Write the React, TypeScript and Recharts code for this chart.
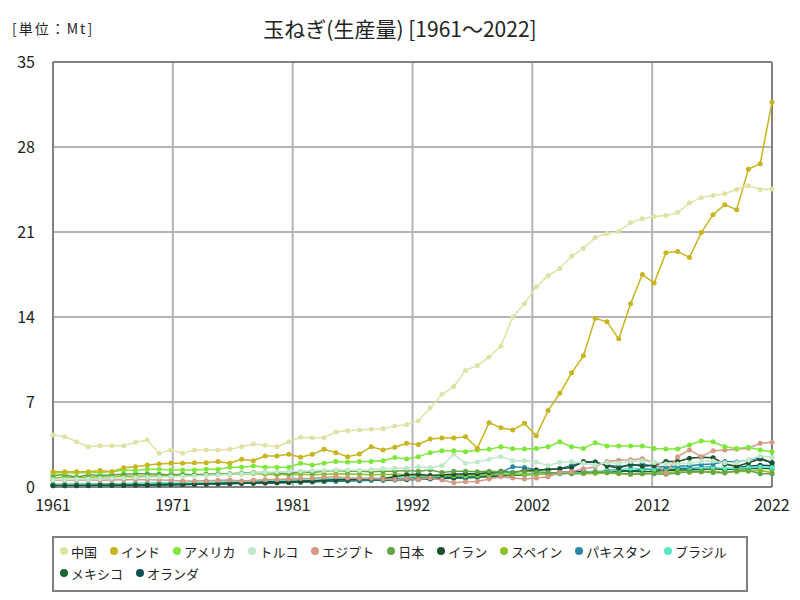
import React from 'react';
import { LineChart, Line, XAxis, YAxis, CartesianGrid, ReferenceLine } from 'recharts';

const FIRST_YEAR = 1961;
const LAST_YEAR = 2022;
const years: number[] = Array.from({ length: LAST_YEAR - FIRST_YEAR + 1 }, (_, i) => FIRST_YEAR + i);

const xTickLabels = ['1961', '1971', '1981', '1992', '2002', '2012', '2022'];
const yTicks = [0, 7, 14, 21, 28, 35];

const seriesNames = ['中国', 'インド', 'アメリカ', 'トルコ', 'エジプト', '日本', 'イラン', 'スペイン', 'パキスタン', 'ブラジル', 'メキシコ', 'オランダ'];
const seriesColors = ['#dfe2a4', '#c8b41e', '#7de83a', '#bfe9c9', '#d49a86', '#63a547', '#1c4f2c', '#8fc02c', '#2e86a8', '#5ae8c0', '#1a6632', '#0f4f55'];

const china = [
  4.28, 4.14, 3.73, 3.32, 3.40, 3.40, 3.40, 3.68, 3.87, 2.78,
  3.05, 2.78, 3.05, 3.05, 3.05, 3.10, 3.32, 3.54, 3.43, 3.32,
  3.73, 4.09, 4.06, 4.06, 4.53, 4.64, 4.70, 4.75, 4.80, 5.02,
  5.13, 5.46, 6.50, 7.63, 8.27, 9.60, 10.0, 10.7, 11.6, 14.0,
  15.1, 16.5, 17.4, 18.0, 19.0, 19.66, 20.54, 20.87, 21.03, 21.77,
  22.1, 22.27, 22.35, 22.6, 23.4, 23.83, 24.0, 24.16, 24.5, 24.8,
  24.5, 24.55,
];
const india = [
  1.26, 1.26, 1.26, 1.26, 1.35, 1.26, 1.59, 1.67, 1.81, 1.89,
  1.95, 1.95, 2.0, 2.0, 2.09, 1.95, 2.28, 2.17, 2.55, 2.55,
  2.69, 2.45, 2.69, 3.1, 2.83, 2.5, 2.72, 3.32, 3.05, 3.27,
  3.6, 3.51, 3.95, 4.04, 4.04, 4.14, 3.2, 5.3, 4.88, 4.7,
  5.24, 4.23, 6.29, 7.72, 9.4, 10.8, 13.9, 13.6, 12.2, 15.1,
  17.5, 16.8, 19.3, 19.4, 18.9, 20.95, 22.43, 23.25, 22.84, 26.17,
  26.63, 31.69,
];
const usa = [
  1.18, 1.18, 1.18, 1.2, 1.2, 1.25, 1.4, 1.35, 1.46, 1.46,
  1.4, 1.4, 1.4, 1.46, 1.46, 1.62, 1.62, 1.73, 1.62, 1.62,
  1.62, 1.95, 1.81, 1.95, 2.09, 2.05, 2.09, 2.09, 2.17, 2.42,
  2.31, 2.5, 2.83, 2.99, 2.99, 2.9, 3.05, 3.1, 3.32, 3.15,
  3.13, 3.18, 3.32, 3.73, 3.32, 3.18, 3.65, 3.37, 3.37, 3.37,
  3.37, 3.18, 3.13, 3.13, 3.46, 3.79, 3.73, 3.32, 3.18, 3.27,
  3.05, 2.9,
];
const turkey = [
  0.6, 0.62, 0.65, 0.65, 0.7, 0.72, 0.75, 0.78, 0.8, 0.82,
  0.85, 0.88, 0.9, 0.95, 1.0, 1.05, 1.1, 1.15, 1.2, 1.25,
  1.3, 1.3, 1.35, 1.35, 1.4, 1.4, 1.35, 1.45, 1.5, 1.54,
  1.54, 1.67, 1.6, 1.75, 2.7, 1.95, 2.05, 2.28, 2.5, 2.17,
  2.17, 2.05, 1.76, 2.03, 2.09, 1.95, 1.81, 2.0, 1.95, 2.09,
  2.14, 2.03, 1.9, 1.9, 1.95, 2.09, 2.15, 2.0, 2.0, 2.22,
  2.55, 2.45,
];
const egypt = [
  0.55, 0.55, 0.58, 0.6, 0.55, 0.58, 0.6, 0.62, 0.6, 0.58,
  0.55, 0.5, 0.5, 0.52, 0.55, 0.58, 0.5, 0.55, 0.6, 0.62,
  0.65, 0.7, 0.72, 0.8, 0.85, 0.75, 0.7, 0.72, 0.65, 0.62,
  0.7, 0.62, 0.74, 0.58, 0.35, 0.44, 0.45, 0.66, 0.85, 0.74,
  0.66, 0.74, 0.85, 1.2, 1.26, 1.5, 1.67, 2.1, 2.2, 2.25,
  2.33, 2.0, 1.15, 2.5, 3.05, 2.5, 2.99, 3.05, 3.1, 3.2,
  3.6, 3.68,
];
const japan = [
  0.95, 1.0, 0.8, 1.0, 0.95, 1.0, 1.05, 1.1, 1.1, 1.05,
  1.0, 1.05, 1.0, 1.05, 1.1, 1.1, 1.15, 1.2, 1.2, 1.15,
  1.1, 1.25, 1.2, 1.3, 1.35, 1.3, 1.3, 1.25, 1.3, 1.3,
  1.35, 1.3, 1.4, 1.2, 1.3, 1.3, 1.25, 1.3, 1.25, 1.2,
  1.3, 1.25, 1.2, 1.15, 1.1, 1.15, 1.25, 1.2, 1.15, 1.05,
  1.1, 1.1, 1.05, 1.15, 1.25, 1.25, 1.2, 1.15, 1.35, 1.35,
  1.1, 1.1,
];
const iran = [
  0.12, 0.12, 0.13, 0.13, 0.14, 0.15, 0.15, 0.16, 0.17, 0.18,
  0.2, 0.2, 0.22, 0.24, 0.26, 0.28, 0.3, 0.32, 0.34, 0.36,
  0.4, 0.45, 0.5, 0.55, 0.6, 0.62, 0.65, 0.68, 0.7, 0.85,
  1.0, 1.05, 0.95, 1.0, 1.05, 1.1, 1.1, 1.2, 1.3, 1.2,
  1.35, 1.4, 1.45, 1.5, 1.6, 2.09, 2.05, 1.75, 1.55, 1.9,
  1.7, 1.8, 2.09, 2.1, 2.36, 2.45, 2.4, 1.9, 1.7, 2.0,
  2.3, 2.0,
];
const spain = [
  0.75, 0.8, 0.78, 0.8, 0.82, 0.85, 0.9, 0.88, 0.9, 0.92,
  0.95, 0.98, 1.0, 1.0, 1.02, 1.05, 1.08, 1.1, 1.05, 1.0,
  1.02, 1.05, 1.0, 1.05, 1.08, 1.1, 1.05, 1.0, 1.02, 1.05,
  1.0, 0.95, 0.9, 0.95, 0.92, 1.0, 0.98, 1.02, 1.05, 1.0,
  1.05, 1.02, 1.1, 1.15, 1.12, 1.1, 1.12, 1.15, 1.1, 1.05,
  1.1, 1.15, 1.2, 1.25, 1.2, 1.25, 1.3, 1.2, 1.25, 1.3,
  1.35, 1.2,
];
const pakistan = [
  0.1, 0.1, 0.11, 0.12, 0.12, 0.13, 0.14, 0.15, 0.16, 0.17,
  0.18, 0.2, 0.22, 0.24, 0.25, 0.27, 0.3, 0.32, 0.35, 0.38,
  0.4, 0.42, 0.45, 0.5, 0.52, 0.55, 0.58, 0.6, 0.62, 0.65,
  0.7, 0.72, 0.75, 0.8, 0.9, 1.0, 1.05, 1.1, 1.2, 1.67,
  1.6, 1.4, 1.45, 1.5, 1.8, 2.0, 2.05, 1.8, 1.7, 1.75,
  1.9, 1.7, 1.65, 1.7, 1.75, 1.85, 1.9, 2.1, 2.05, 2.2,
  2.4, 2.0,
];
const brazil = [
  0.2, 0.2, 0.22, 0.22, 0.24, 0.25, 0.26, 0.28, 0.3, 0.32,
  0.34, 0.36, 0.38, 0.4, 0.42, 0.45, 0.48, 0.5, 0.55, 0.58,
  0.6, 0.62, 0.65, 0.68, 0.7, 0.72, 0.75, 0.7, 0.75, 0.8,
  0.85, 0.9, 0.85, 0.9, 0.95, 0.9, 0.95, 1.0, 1.05, 1.1,
  1.05, 1.1, 1.15, 1.1, 1.15, 1.2, 1.3, 1.3, 1.4, 1.55,
  1.5, 1.5, 1.55, 1.6, 1.6, 1.6, 1.6, 1.55, 1.55, 1.6,
  1.65, 1.6,
];
const mexico = [
  0.1, 0.1, 0.1, 0.11, 0.12, 0.12, 0.13, 0.14, 0.15, 0.16,
  0.18, 0.2, 0.22, 0.24, 0.26, 0.28, 0.3, 0.3, 0.32, 0.35,
  0.38, 0.4, 0.42, 0.45, 0.48, 0.5, 0.52, 0.55, 0.55, 0.58,
  0.6, 0.62, 0.65, 0.7, 0.72, 0.75, 0.8, 0.85, 0.9, 0.95,
  1.0, 1.05, 1.1, 1.1, 1.15, 1.2, 1.2, 1.25, 1.3, 1.3,
  1.25, 1.3, 1.35, 1.4, 1.4, 1.45, 1.5, 1.45, 1.5, 1.5,
  1.55, 1.5,
];
const netherlands = [
  0.2, 0.2, 0.22, 0.22, 0.25, 0.25, 0.26, 0.28, 0.28, 0.3,
  0.32, 0.32, 0.34, 0.35, 0.36, 0.38, 0.4, 0.42, 0.44, 0.45,
  0.48, 0.5, 0.52, 0.55, 0.55, 0.58, 0.6, 0.62, 0.6, 0.65,
  0.7, 0.72, 0.7, 0.75, 0.8, 0.85, 0.9, 0.95, 1.0, 0.95,
  1.05, 1.1, 1.15, 1.2, 1.25, 1.3, 1.2, 1.35, 1.4, 1.3,
  1.45, 1.5, 1.35, 1.5, 1.55, 1.6, 1.65, 1.4, 1.6, 1.7,
  1.8, 1.75,
];

const seriesValues = [china, india, usa, turkey, egypt, japan, iran, spain, pakistan, brazil, mexico, netherlands];

const data = years.map((year, i) => {
  const row: Record<string, number> = { year };
  seriesNames.forEach((name, k) => {
    row[name] = seriesValues[k][i];
  });
  return row;
});

const xTicks = xTickLabels.map((_, k) => FIRST_YEAR + (k * (LAST_YEAR - FIRST_YEAR)) / (xTickLabels.length - 1));

const FONT = '"Noto Sans CJK JP", "Noto Sans", sans-serif';

export default function App() {
  const drawOrder = seriesNames.map((_, i) => i).reverse();
  return (
    <div style={{ position: 'absolute', left: 0, top: 0, width: 800, height: 600, background: '#fff', fontFamily: FONT }}>
      <div style={{ position: 'absolute', left: 12, top: 18, fontSize: 14, letterSpacing: 2, color: '#222', lineHeight: '20px' }}>[単位：Mt]</div>
      <div style={{ position: 'absolute', left: 0, width: 800, top: 14, textAlign: 'center', fontSize: 21, color: '#222', lineHeight: '28px' }}>
        玉ねぎ(生産量) [1961～2022]
      </div>
      <LineChart width={800} height={600} data={data} margin={{ top: 62, right: 28, bottom: 83, left: 8 }}>
        <CartesianGrid stroke="#b4b4b4" strokeWidth={2} />
        <XAxis
          dataKey="year"
          type="number"
          domain={[FIRST_YEAR, LAST_YEAR]}
          ticks={xTicks}
          interval={0}
          tickFormatter={(_v: number, idx: number) => xTickLabels[idx]}
          height={30}
          tickLine={false}
          tickSize={0}
          tickMargin={13}
          axisLine={{ stroke: '#808080', strokeWidth: 2 }}
          tick={{ fontSize: 16, fill: '#222', fontFamily: FONT }}
        />
        <YAxis
          domain={[0, 35]}
          ticks={yTicks}
          interval={0}
          width={45}
          tickLine={false}
          tickSize={0}
          tickMargin={18}
          axisLine={{ stroke: '#808080', strokeWidth: 2 }}
          tick={{ fontSize: 16, fill: '#222', fontFamily: FONT }}
        />
        <ReferenceLine x={LAST_YEAR} stroke="#808080" strokeWidth={2} />
        <ReferenceLine y={35} stroke="#808080" strokeWidth={2} />
        {drawOrder.map((k) => (
          <Line
            key={seriesNames[k]}
            type="linear"
            dataKey={seriesNames[k]}
            stroke={seriesColors[k]}
            strokeWidth={1.5}
            dot={{ r: 2.5, fill: seriesColors[k], stroke: 'none', strokeWidth: 0 }}
            activeDot={false}
            isAnimationActive={false}
          />
        ))}
      </LineChart>
      <div
        style={{
          position: 'absolute',
          left: 52,
          top: 536,
          width: 696,
          height: 56,
          boxSizing: 'border-box',
          border: '2px solid #808080',
          padding: '2px 6px',
          display: 'flex',
          flexWrap: 'wrap',
          alignContent: 'flex-start',
          fontSize: 13,
          color: '#222',
        }}
      >
        {seriesNames.map((name, k) => (
          <div key={name} style={{ display: 'flex', alignItems: 'center', marginRight: 13, height: 22 }}>
            <span style={{ display: 'inline-block', width: 8, height: 8, borderRadius: 4, background: seriesColors[k], marginRight: 3 }} />
            <span>{name}</span>
          </div>
        ))}
      </div>
    </div>
  );
}
